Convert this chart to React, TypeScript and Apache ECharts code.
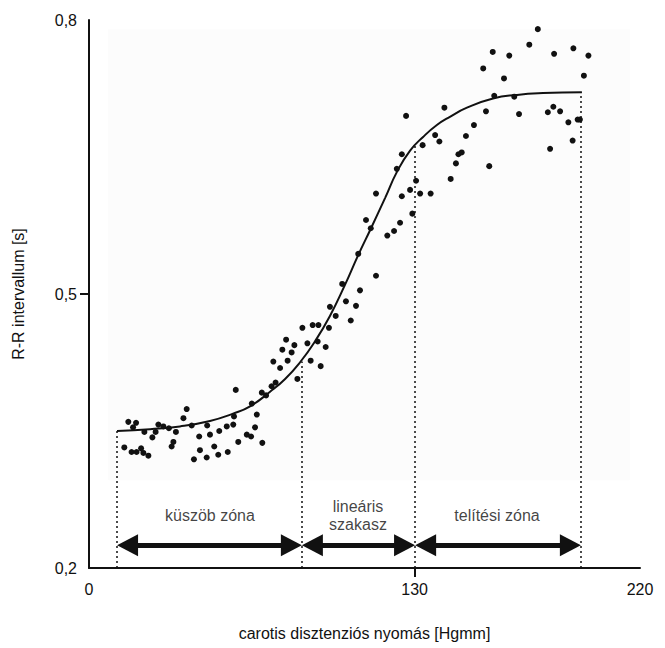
import React, { useEffect, useRef } from "react";
import * as echarts from "echarts";

// Tick labels
const xTicks = [0, 130, 220];
const xTickMarks = [130];
const yTicks = [0.2, 0.5, 0.8];
const yTickMarks = [0.5];

// Fitted curve
const curveX = [11.2, 24.4, 36.3, 48.3, 57.5, 64.3, 72.3, 78.3, 84.2, 90.2, 96.2, 102.2, 107.4, 112.6, 118.2, 123.0, 128.2, 133.4, 138.9, 144.1, 150.9, 161.3, 170.9, 181.3, 196.8];
const curveY = [0.350, 0.352, 0.355, 0.361, 0.369, 0.377, 0.393, 0.407, 0.425, 0.448, 0.476, 0.510, 0.542, 0.572, 0.605, 0.634, 0.657, 0.672, 0.685, 0.694, 0.704, 0.714, 0.718, 0.720, 0.721];

// Measured points
const scatterX = [15.7, 18.8, 17.6, 22.1, 25.3, 26.6, 27.7, 29.7, 31.9, 34.7, 39.0, 37.7, 41.0, 33.7, 33.0, 14.1, 17.0, 19.0, 20.8, 21.7, 23.7, 44.0, 44.3, 41.9, 47.0, 47.2, 48.3, 50.0, 51.6, 52.0, 55.0, 55.4, 57.6, 57.9, 58.6, 59.6, 63.0, 64.7, 66.3, 67.0, 69.2, 65.0, 69.0, 70.7, 72.9, 74.5, 78.7, 82.0, 77.2, 80.9, 73.6, 79.3, 76.3, 83.2, 85.2, 87.2, 89.3, 91.6, 88.5, 92.5, 94.5, 95.8, 96.2, 98.5, 102.6, 106.6, 104.5, 91.3, 110.6, 107.5, 101.1, 108.2, 138.2, 139.9, 133.2, 124.9, 122.9, 147.5, 146.5, 144.4, 130.6, 128.2, 124.9, 132.2, 136.4, 114.6, 129.1, 124.2, 121.8, 119.1, 112.5, 114.6, 148.8, 159.8, 179.2, 175.8, 161.2, 167.8, 185.7, 193.4, 199.4, 157.4, 165.7, 197.6, 161.8, 169.8, 126.6, 141.9, 158.5, 171.7, 183.2, 185.4, 188.1, 191.4, 195.1, 196.0, 193.1, 153.7, 150.5, 184.1];
const scatterY = [0.360, 0.359, 0.354, 0.349, 0.343, 0.349, 0.357, 0.355, 0.353, 0.349, 0.374, 0.364, 0.356, 0.338, 0.333, 0.332, 0.327, 0.327, 0.331, 0.326, 0.323, 0.344, 0.329, 0.319, 0.321, 0.356, 0.346, 0.333, 0.324, 0.350, 0.355, 0.327, 0.357, 0.366, 0.395, 0.338, 0.346, 0.344, 0.354, 0.368, 0.337, 0.380, 0.392, 0.389, 0.399, 0.403, 0.450, 0.444, 0.439, 0.436, 0.426, 0.427, 0.419, 0.407, 0.463, 0.446, 0.466, 0.466, 0.427, 0.421, 0.442, 0.463, 0.486, 0.476, 0.492, 0.487, 0.471, 0.448, 0.581, 0.544, 0.511, 0.504, 0.674, 0.667, 0.663, 0.653, 0.637, 0.653, 0.643, 0.626, 0.624, 0.614, 0.607, 0.610, 0.610, 0.610, 0.588, 0.578, 0.569, 0.564, 0.572, 0.520, 0.655, 0.640, 0.790, 0.773, 0.765, 0.761, 0.763, 0.769, 0.761, 0.747, 0.736, 0.739, 0.717, 0.716, 0.695, 0.704, 0.700, 0.697, 0.699, 0.705, 0.700, 0.688, 0.691, 0.691, 0.668, 0.685, 0.673, 0.659];

// Zones
const zoneBounds = [11.2, 85.0, 130.2, 196.4];
const zoneBoundTops = [0.350, 0.426, 0.663, 0.721];
const zoneNames = ["küszöb zóna", "lineáris\nszakasz", "telítési zóna"];
const zoneLabelX = [48.3, 107.4, 162.9];
const zoneLabelY = 0.258;
const arrowY = 0.225;
// half the arrow-head length, in x units, so the tips meet the zone bounds
const arrowInset = 4.2;

const FONT = "'Liberation Sans', Arial, Helvetica, sans-serif";
const INK = "#111111";

export default function App() {
  const ref = useRef<HTMLDivElement>(null);
  useEffect(() => {
    if (!ref.current) return;
    const chart = echarts.init(ref.current, undefined, { renderer: "svg" });
    const curve = curveX.map((x, i) => [x, curveY[i]]);
    const pts = scatterX.map((x, i) => [x, scatterY[i]]);
    const dotted = zoneBounds.map((x, i) => [
      { coord: [x, 0.2] },
      { coord: [x, zoneBoundTops[i]] },
    ]);
    const arrows = zoneNames.map((_, i) => [
      { coord: [zoneBounds[i] + arrowInset, arrowY] },
      { coord: [zoneBounds[i + 1] - arrowInset, arrowY] },
    ]);
    const labels = zoneNames.map((n, i) => ({ name: n, value: [zoneLabelX[i], zoneLabelY] }));

    chart.setOption({
      animation: false,
      backgroundColor: "#ffffff",
      textStyle: { fontFamily: FONT },
      grid: { left: 89, right: 25, top: 20, bottom: 80 },
      xAxis: {
        type: "value",
        min: 0,
        max: 220,
        name: "carotis disztenziós nyomás [Hgmm]",
        nameLocation: "middle",
        nameGap: 57,
        nameTextStyle: { fontSize: 16, color: INK, fontFamily: FONT },
        axisLine: { show: true, lineStyle: { color: INK, width: 2 } },
        axisTick: { show: true, customValues: xTickMarks, length: 9, lineStyle: { color: INK, width: 2 } },
        axisLabel: { customValues: xTicks, fontSize: 16, color: INK, margin: 13, fontFamily: FONT },
        splitLine: { show: false },
      },
      yAxis: {
        type: "value",
        min: 0.2,
        max: 0.8,
        name: "R-R intervallum [s]",
        nameLocation: "middle",
        nameRotate: 90,
        nameGap: 63,
        nameTextStyle: { fontSize: 16, color: INK, fontFamily: FONT },
        axisLine: { show: true, lineStyle: { color: INK, width: 2 } },
        axisTick: { show: true, customValues: yTickMarks, length: 9, lineStyle: { color: INK, width: 2 } },
        axisLabel: {
          customValues: yTicks,
          fontSize: 16,
          color: INK,
          margin: 12,
          fontFamily: FONT,
          formatter: (v: number) => v.toFixed(1).replace(".", ","),
        },
        splitLine: { show: false },
      },
      series: [
        {
          type: "line",
          data: [],
          silent: true,
          markArea: {
            silent: true,
            itemStyle: { color: "#fcfcfc", opacity: 1 },
            data: [[{ coord: [7.6, 0.296] }, { coord: [216, 0.79] }]],
          },
          markLine: {
            silent: true,
            symbol: ["none", "none"],
            label: { show: false },
            lineStyle: { color: INK, width: 1.5, type: [2, 3] },
            data: dotted,
          },
          z: 1,
        },
        {
          type: "line",
          data: [],
          silent: true,
          markLine: {
            silent: true,
            symbol: ["triangle", "triangle"],
            symbolSize: [22, 21],
            label: { show: false },
            lineStyle: { color: INK, width: 5, type: "solid", opacity: 1 },
            itemStyle: { color: INK, opacity: 1 },
            data: arrows,
          },
          z: 3,
        },
        {
          type: "line",
          data: curve,
          smooth: 0.5,
          showSymbol: false,
          lineStyle: { color: INK, width: 2 },
          z: 4,
        },
        {
          type: "scatter",
          data: pts,
          symbol: "circle",
          symbolSize: 6,
          itemStyle: { color: INK, opacity: 1 },
          z: 5,
        },
        {
          type: "scatter",
          data: labels,
          symbolSize: 1,
          itemStyle: { color: "rgba(0,0,0,0)" },
          silent: true,
          label: {
            show: true,
            position: "inside",
            formatter: (p: any) => p.name,
            fontSize: 16,
            lineHeight: 18,
            color: INK,
            fontFamily: FONT,
            align: "center",
            verticalAlign: "middle",
          },
          z: 6,
        },
      ],
    });
    return () => chart.dispose();
  }, []);
  return (
    <div
      ref={ref}
      style={{ position: "absolute", left: 0, top: 0, width: 665, height: 648, background: "#fff" }}
    />
  );
}
